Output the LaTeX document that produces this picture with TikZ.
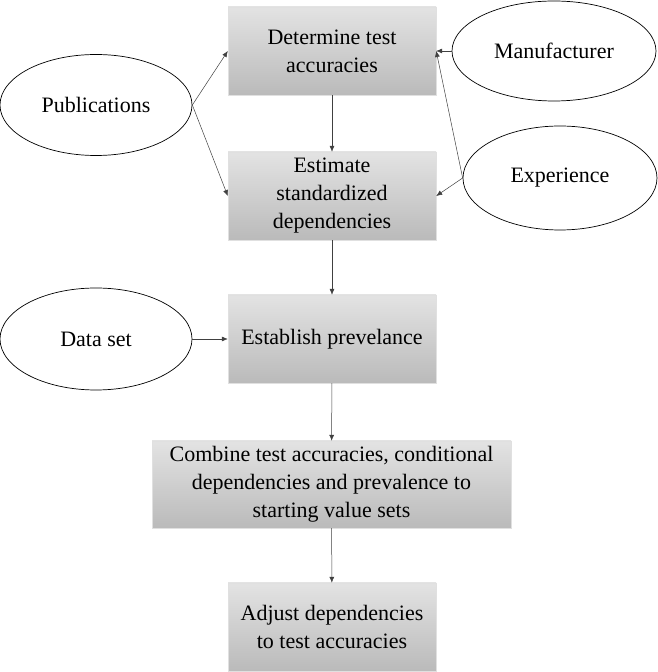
\documentclass[tikz,border=0pt]{standalone}
\usepackage{fontspec}
\setmainfont{Liberation Serif}
\usepackage{tikz}
\usetikzlibrary{arrows.meta,shapes.geometric}

\begin{document}
\begin{tikzpicture}[x=1pt,y=1pt,>={Latex[length=6pt,width=5pt]},
    font=\fontsize{22}{28}\selectfont,
    stepbox/.style={rectangle,draw=black!12,line width=0.4pt,top color=black!11,bottom color=black!27,
      minimum width=208,minimum height=88,align=center,inner sep=2pt},
    source/.style={ellipse,draw,line width=0.7pt,inner sep=0pt,align=center},
    link/.style={->,draw=black!75,line width=0.5pt}]
  \useasboundingbox (0,0) rectangle (658,672);

  % Process steps, top to bottom.
  \node[stepbox] (det) at (332,621) {Determine test\\accuracies};
  \node[stepbox] (est) at (332,476) {Estimate\\standardized\\dependencies};
  \node[stepbox] (prev) at (332,333) {Establish prevelance};
  \node[stepbox,minimum width=359,minimum height=87] (comb) at (331.5,187.5)
    {Combine test accuracies, conditional\\dependencies and prevalence to\\starting value sets};
  \node[stepbox] (adj) at (332,45) {Adjust dependencies\\to test accuracies};

  % Information sources.
  \node[source,minimum width=192,minimum height=101] (pub) at (96,567) {Publications};
  \node[source,minimum width=204,minimum height=100] (man) at (554,621) {Manufacturer};
  \node[source,minimum width=194,minimum height=104] (exp) at (560,494) {Experience};
  \node[source,minimum width=192,minimum height=102] (data) at (96,333) {Data set};

  % Flow between steps.
  \draw[link] (det) -- (est);
  \draw[link] (est) -- (prev);
  \draw[link] (prev) -- (comb);
  \draw[link] (comb) -- (adj);

  % Inputs from sources.
  \draw[link] (pub.east) -- (det.west);
  \draw[link] (pub.east) -- (est.west);
  \draw[link] (man.west) -- (det.east);
  \draw[link] (exp.west) -- (det.east);
  \draw[link] (exp.west) -- (est.east);
  \draw[link] (data.east) -- (prev.west);
\end{tikzpicture}
\end{document}
